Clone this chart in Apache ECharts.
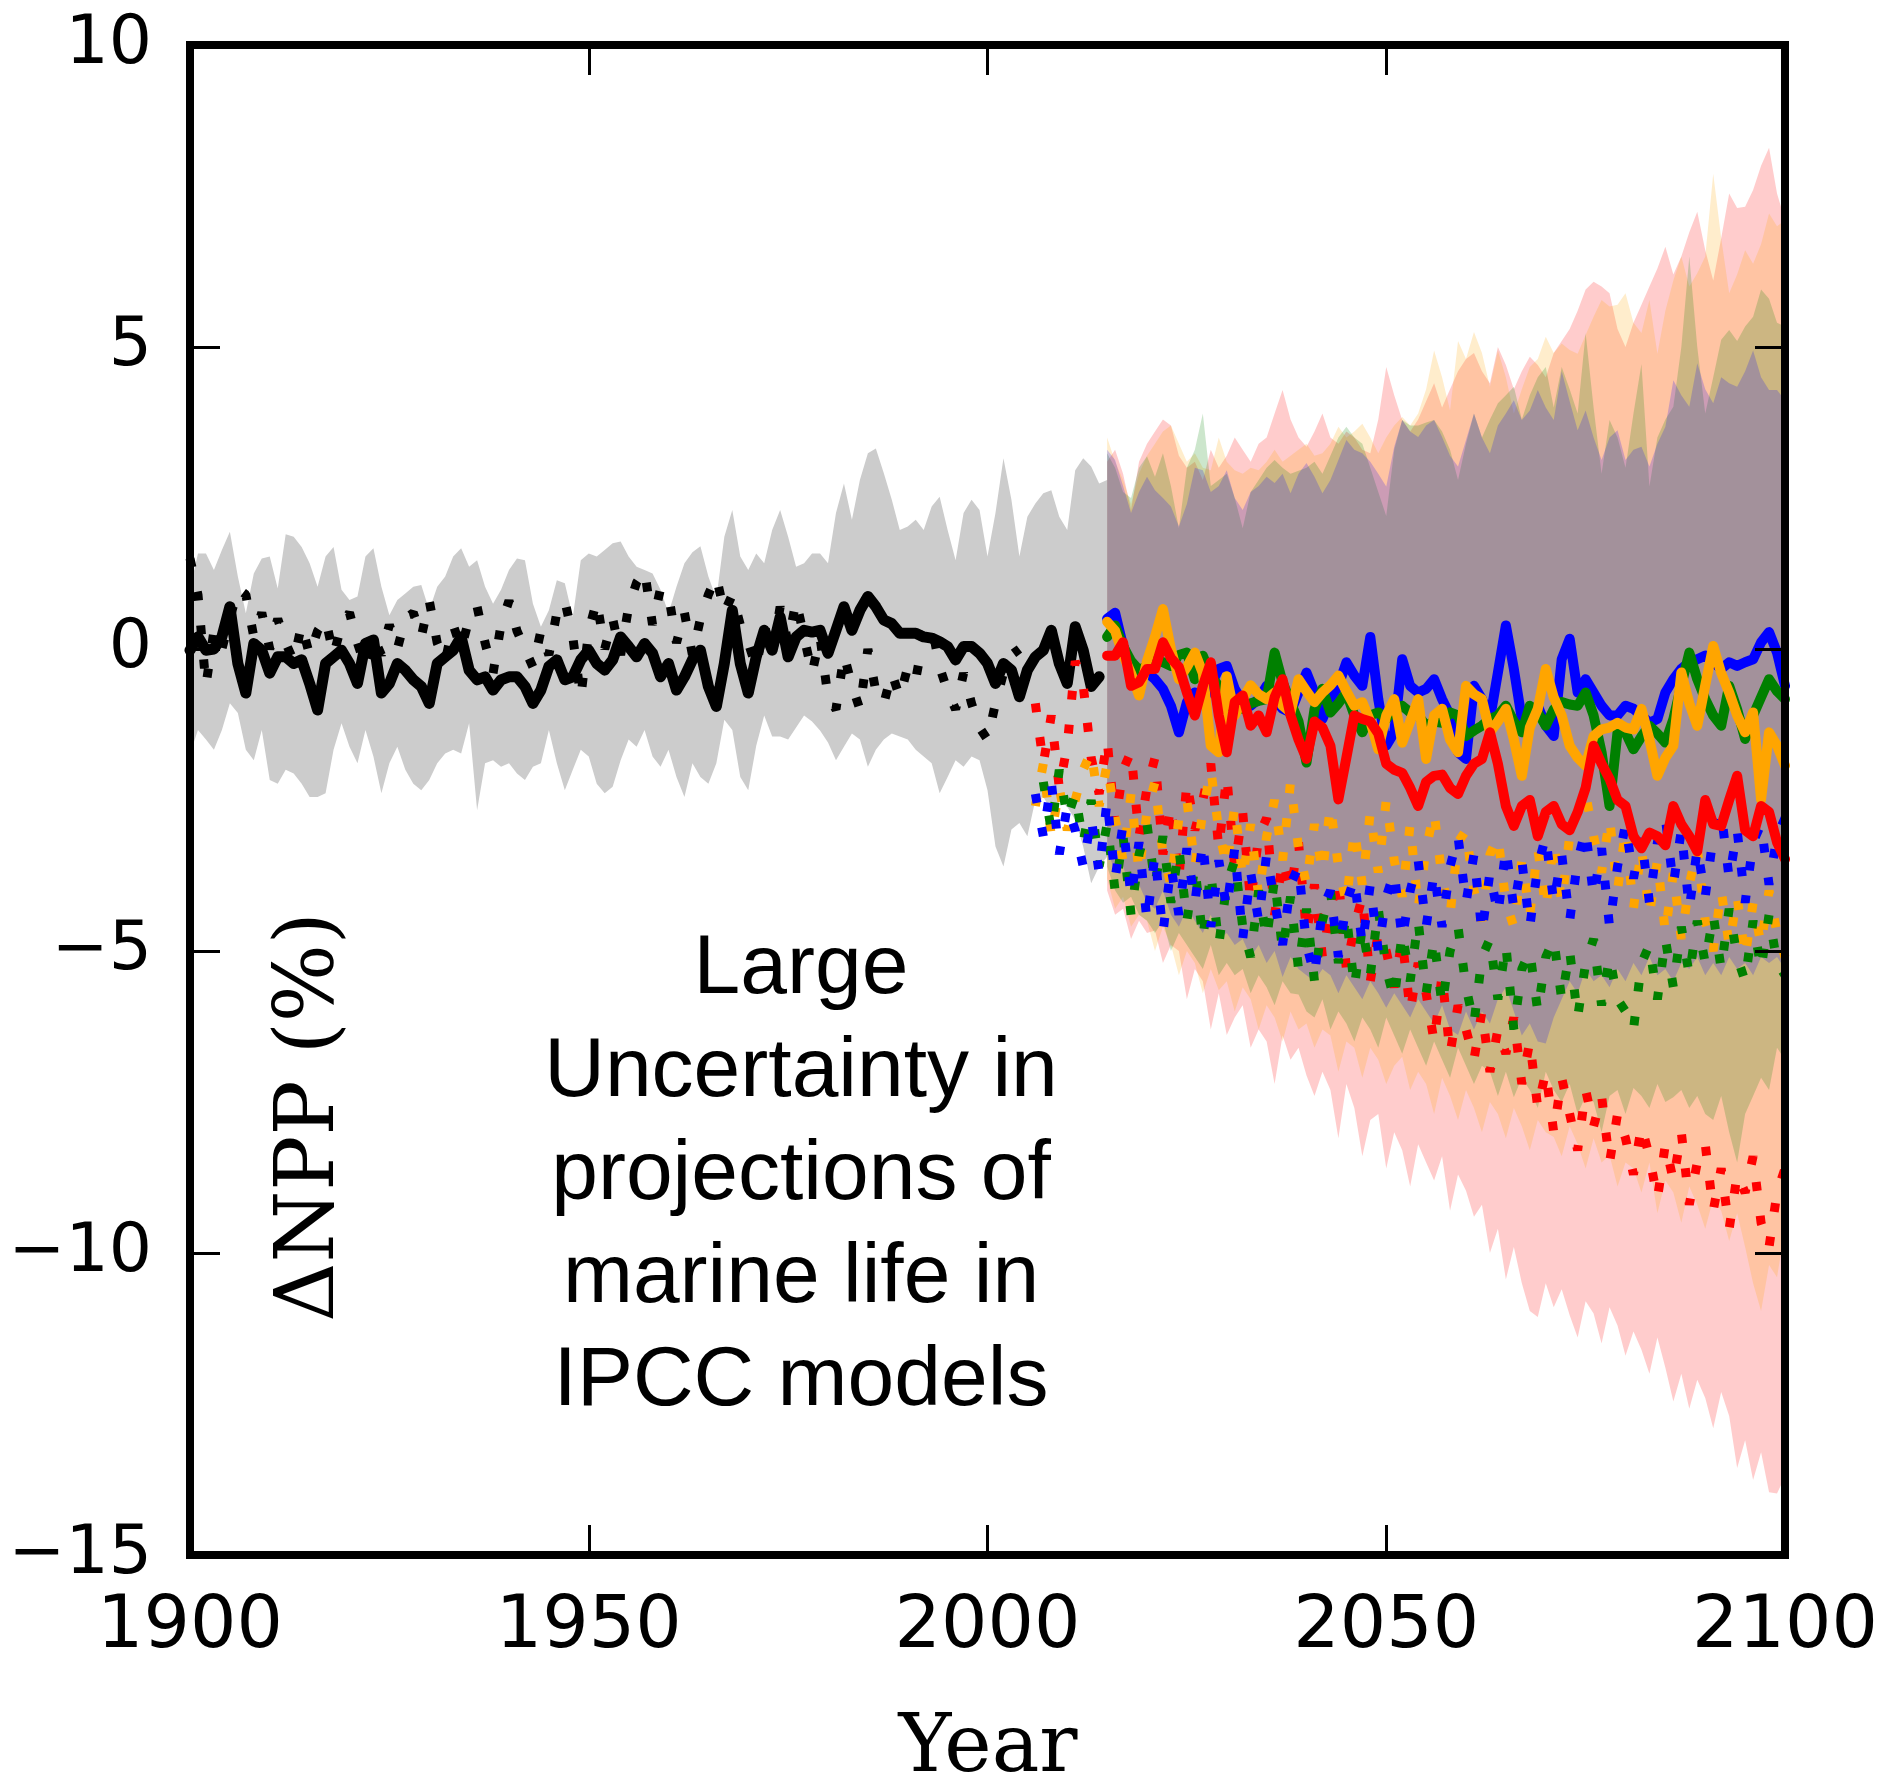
<!DOCTYPE html>
<html>
<head>
<meta charset="utf-8">
<script src="https://cdn.jsdelivr.net/npm/echarts@6.0.0/dist/echarts.min.js"></script>
<style>
  html, body { margin: 0; padding: 0; background: #ffffff; }
  #chart { width: 1894px; height: 1791px; }
</style>
</head>
<body>
<div id="chart"></div>
<script>
// ---- Historical period (1900 onward) ----
const HIST_START = 1900;
const grayUpper = [
  1.0, 1.58, 1.58, 1.31, 1.64, 1.94, 1.2, 0.59, 1.25, 1.5,
  1.53, 1.0, 1.9, 1.86, 1.69, 1.42, 1.03, 1.53, 1.69, 0.98,
  0.81, 0.87, 1.53, 1.67, 1.03, 0.56, 0.81, 0.92, 1.03, 1.06,
  0.64, 1.03, 1.2, 1.53, 1.67, 1.36, 1.47, 1.03, 0.75, 0.98,
  1.31, 1.5, 1.47, 0.75, 0.37, 0.64, 1.14, 1.09, 0.53, 1.47,
  1.58, 1.53, 1.64, 1.75, 1.78, 1.53, 1.36, 1.31, 1.25, 0.98,
  0.59, 1.03, 1.42, 1.6, 1.7, 1.2, 0.83, 1.86, 2.3, 1.53,
  1.31, 1.58, 1.42, 1.97, 2.3, 1.86, 1.36, 1.42, 1.58, 1.58,
  1.42, 2.25, 2.74, 2.14, 2.8, 3.24, 3.32, 2.91, 2.47, 1.97,
  2.03, 2.14, 1.97, 2.36, 2.52, 1.97, 1.47, 2.25, 2.47, 2.3,
  1.53, 2.25, 3.16, 2.47, 1.53, 2.19, 2.41, 2.58, 2.63, 2.19,
  1.97, 2.96, 3.16, 3.02, 2.74, 2.8
];
const grayLower = [
  -1.73, -1.34, -1.5, -1.67, -1.34, -0.9, -1.06, -1.67, -1.84, -1.34,
  -2.17, -2.23, -2.0, -2.06, -2.23, -2.45, -2.45, -2.39, -1.67, -1.23,
  -1.62, -1.89, -1.34, -1.78, -2.39, -1.89, -1.62, -2.0, -2.23, -2.34,
  -2.17, -1.89, -1.73, -1.67, -1.73, -1.23, -2.67, -1.89, -1.84, -1.95,
  -1.89, -2.06, -2.17, -1.95, -1.89, -1.34, -1.89, -2.34, -2.0, -1.67,
  -1.78, -2.23, -2.39, -2.28, -1.84, -1.5, -1.62, -1.34, -1.78, -1.95,
  -1.67, -2.12, -2.45, -1.89, -2.12, -2.23, -1.89, -1.17, -1.34, -2.12,
  -2.34, -1.6, -1.1, -1.45, -1.45, -1.5, -1.3, -1.1, -1.2, -1.35,
  -1.55, -1.84, -1.62, -1.4, -1.5, -1.95, -1.67, -1.5, -1.4, -1.45,
  -1.5, -1.67, -1.78, -1.89, -2.39, -2.12, -1.84, -1.95, -1.78, -1.84,
  -2.34, -3.27, -3.6, -2.99, -2.88, -3.1, -2.5, -2.45, -2.67, -2.5,
  -2.61, -2.83, -3.27, -3.88, -3.6, -3.44
];
const histLine = [
  -0.02, 0.2, -0.02, 0.0, 0.2, 0.7, -0.24, -0.73, 0.09, -0.02,
  -0.4, -0.13, -0.13, -0.24, -0.18, -0.57, -1.01, -0.24, -0.13, -0.02,
  -0.24, -0.57, 0.09, 0.15, -0.73, -0.57, -0.24, -0.35, -0.51, -0.62,
  -0.9, -0.24, -0.13, -0.02, 0.2, -0.35, -0.51, -0.46, -0.68, -0.51,
  -0.46, -0.46, -0.62, -0.9, -0.68, -0.29, -0.18, -0.51, -0.46, -0.18,
  -0.02, -0.24, -0.35, -0.18, 0.2, 0.04, -0.13, 0.09, -0.07, -0.46,
  -0.24, -0.68, -0.46, -0.18, -0.02, -0.62, -0.95, -0.24, 0.64, -0.24,
  -0.73, -0.13, 0.31, -0.02, 0.53, -0.13, 0.2, 0.31, 0.28, 0.31,
  -0.07, 0.31, 0.7, 0.31, 0.64, 0.87, 0.7, 0.48, 0.42, 0.26,
  0.26, 0.26, 0.2, 0.18, 0.12, 0.04, -0.18, 0.04, 0.04, -0.07,
  -0.24, -0.57, -0.24, -0.35, -0.79, -0.35, -0.13, -0.02, 0.31, -0.24,
  -0.57, 0.37, -0.02, -0.62, -0.46
];
const histDotted = [
  1.5, 0.9, -0.6, 0.3, 0.0, 0.5, 1.0, 0.9, 0.2, 0.6,
  0.0, 0.5, 0.1, -0.2, 0.4, -0.1, 0.3, 0.5, -0.1, 0.4,
  0.6, 0.1, -0.3, 0.2, -0.1, 0.4, 0.0, 0.5, 0.6, 0.2,
  0.8, 0.1, -0.2, 0.4, 0.0, 0.5, 0.7, 0.1, -0.4, 0.4,
  0.8, 0.3, 0.0, -0.3, 0.3, -0.1, 0.6, 0.8, 0.2, -0.8,
  0.3, 0.8, 0.0, 0.5, -0.1, 0.7, 1.1, 1.3, 0.4, 1.0,
  0.9, 0.1, 0.6, -0.1, 0.5, 0.9, 1.2, 0.6, 0.9, 0.4,
  0.1, -0.3, 0.4, -0.1, 0.7, 0.1, 0.8, 0.2, -0.4, 0.2,
  -0.8, -1.0, -0.1, -0.6, -1.0, 0.0, -0.7, -0.9, -0.4, -0.8,
  -0.3, -0.5, 0.2, 0.4, -0.3, -0.7, -1.0, -0.4, -0.9, -1.3,
  -1.5, -0.9, -0.4, -0.1, 0.0
];

// ---- Projection period (2015-2100) : model spread envelopes ----
const PROJ_START = 2015;
const redUpper = [
  3.1, 3.3, 2.9, 2.3, 3.1, 3.4,
  3.6, 3.8, 3.7, 3.2, 3.0, 3.1, 2.8, 3.3, 3.0, 3.2,
  3.5, 3.3, 3.1, 3.4, 3.5, 3.9, 4.29, 3.8, 3.5, 3.35,
  3.6, 3.9, 3.5, 3.4, 3.6, 3.5, 3.3, 3.24, 3.8, 4.67,
  4.2, 3.79, 3.6, 3.8, 4.1, 4.4, 4.0, 4.3, 4.6, 4.8,
  4.9, 4.6, 4.4, 5.0, 4.7, 4.3, 4.6, 4.84, 4.7, 4.5,
  4.9, 5.1, 5.3, 5.6, 5.95, 6.08, 6.0, 5.89, 5.3, 5.0,
  5.4, 5.7, 6.0, 6.3, 6.66, 6.2, 6.5, 6.9, 7.24, 6.6,
  6.1, 6.8, 7.54, 7.3, 7.32, 7.6, 8.0, 8.3, 7.54, 7.1
];
const redLower = [
  -4.0, -4.4, -4.3, -4.8, -4.5, -4.7,
  -4.66, -5.2, -4.9, -5.0, -5.8, -5.3, -5.5, -6.3, -5.7, -6.39,
  -6.1, -5.9, -6.6, -6.3, -6.5, -7.2, -6.4, -6.8, -6.6, -7.06,
  -7.4, -7.0, -7.3, -8.1, -7.2, -7.6, -8.4, -7.8, -7.7, -8.6,
  -8.0, -8.3, -8.9, -8.2, -8.5, -8.8, -8.4, -9.3, -8.7, -8.97,
  -9.4, -9.2, -10.0, -9.6, -10.44, -9.9, -10.5, -10.96, -11.06, -10.5,
  -10.9, -10.6, -11.03, -11.4, -10.8, -11.0, -11.5, -10.9, -11.2, -11.7,
  -11.3, -11.6, -12.0, -11.4, -11.9, -12.46, -12.0, -12.58, -12.1, -12.4,
  -12.9, -12.3, -12.7, -13.56, -13.1, -13.76, -13.3, -13.96, -13.98, -13.7
];
const orangeUpper = [
  3.5, 3.1, 2.8, 2.4, 2.9, 3.2,
  3.4, 3.6, 3.7, 3.4, 3.1, 3.24, 3.0, 2.96, 3.5, 3.1,
  2.96, 2.9, 3.0, 2.96, 3.1, 3.3, 3.1, 3.2, 3.3, 3.4,
  3.2, 3.24, 3.4, 3.68, 3.5, 3.6, 3.73, 3.5, 3.24, 3.5,
  3.7, 3.84, 3.7, 3.9, 4.3, 4.94, 4.5, 3.95, 5.1, 4.8,
  5.25, 4.9, 4.34, 4.94, 4.5, 3.9, 4.3, 4.67, 4.8, 5.17,
  4.9, 5.06, 4.95, 4.89, 5.2, 5.5, 5.78, 5.67, 5.7, 5.89,
  5.4, 5.23, 5.78, 4.89, 5.6, 6.1, 6.5, 6.0, 6.22, 6.5,
  7.87, 6.8, 5.89, 6.2, 6.6, 6.38, 6.7, 7.21, 7.0, 7.1
];
const orangeLower = [
  -3.8, -4.3, -4.1, -4.6, -4.4, -4.5,
  -5.0, -4.6, -4.9, -5.4, -5.0, -5.2, -5.7, -5.3, -5.65, -5.5,
  -6.0, -5.6, -5.8, -6.3, -5.9, -6.1, -6.5, -6.0, -6.3, -6.2,
  -6.6, -6.3, -6.4, -7.0, -6.5, -6.6, -7.1, -6.6, -6.8, -7.2,
  -6.9, -6.75, -7.3, -7.0, -7.2, -7.7, -7.1, -7.4, -7.8, -7.3,
  -7.6, -8.0, -7.5, -7.7, -8.1, -7.6, -7.9, -8.3, -7.8, -8.0,
  -8.08, -8.4, -7.9, -8.2, -8.6, -8.1, -8.5, -8.38, -8.9, -8.5,
  -8.6, -9.0, -8.5, -9.34, -8.8, -9.0, -9.5, -8.9, -9.2, -9.6,
  -9.1, -9.3, -9.8, -9.34, -9.9, -10.5, -10.96, -10.2, -10.4, -9.6
];
const greenUpper = [
  3.24, 3.0, 2.6, 2.5, 3.0, 3.19,
  2.85, 3.24, 2.7, 2.0, 3.0, 3.3, 3.9, 2.7, 2.8, 2.9,
  2.5, 2.0, 2.6, 2.8, 3.0, 3.13, 3.0, 2.9, 2.95, 3.0,
  3.1, 2.9, 3.2, 3.5, 3.68, 3.5, 3.4, 3.0, 2.6, 2.2,
  3.3, 3.79, 3.7, 3.7, 3.75, 3.79, 3.6, 3.3, 2.8, 3.4,
  3.9, 3.5, 3.8, 4.07, 4.2, 4.34, 3.8, 4.2, 4.5, 4.67,
  4.0, 4.67, 4.3, 3.9, 5.23, 4.0, 2.9, 3.79, 3.5, 3.0,
  3.9, 4.72, 2.69, 3.5, 3.8, 4.01, 5.0, 6.5, 5.0, 3.9,
  4.5, 5.12, 5.28, 5.1, 5.34, 5.5, 5.95, 5.8, 5.4, 5.34
];
const greenLower = [
  -3.6, -4.0, -4.2, -4.1, -4.4, -4.5,
  -4.7, -4.5, -5.0, -4.7, -4.9, -5.1, -5.3, -4.9, -5.4, -5.2,
  -5.4, -5.3, -5.7, -5.4, -5.6, -5.9, -5.5, -5.7, -5.72, -6.0,
  -6.1, -5.8, -6.3, -6.0, -6.2, -6.5, -6.1, -6.3, -6.6, -6.1,
  -6.4, -6.7, -6.3, -6.6, -6.9, -6.5, -6.8, -7.1, -6.6, -6.9,
  -7.2, -6.9, -7.0, -7.4, -7.0, -7.42, -7.1, -7.3, -7.6, -7.0,
  -7.3, -7.5, -7.2, -7.7, -7.4, -7.5, -8.0, -7.4, -7.3, -7.7,
  -7.27, -7.4, -7.6, -7.2, -7.5, -7.42, -7.3, -7.6, -7.4, -7.7,
  -7.8, -7.4, -8.0, -8.5, -7.7, -7.4, -7.1, -7.3, -6.6, -6.8
];
const blueUpper = [
  3.3, 3.13, 2.7, 2.25, 2.6, 2.85,
  2.63, 2.5, 2.36, 2.03, 2.4, 3.0, 2.96, 2.6, 2.7, 2.96,
  2.5, 2.3, 2.6, 2.7, 2.85, 2.75, 2.9, 2.58, 2.9, 3.08,
  2.85, 2.58, 2.8, 3.13, 3.46, 3.3, 3.24, 3.1, 2.9, 2.69,
  3.35, 3.79, 3.6, 3.51, 3.7, 3.79, 3.51, 3.2, 3.02, 3.46,
  3.9, 3.5, 3.24, 3.7, 3.9, 4.12, 3.79, 3.95, 4.29, 4.0,
  3.79, 4.6, 4.1, 3.62, 3.95, 3.5, 3.13, 3.5, 3.62, 3.13,
  3.3, 3.35, 3.02, 3.4, 3.68, 4.45, 4.2, 4.01, 4.73, 4.3,
  4.07, 4.5, 4.4, 4.34, 4.6, 4.94, 4.5, 4.29, 4.29, 4.12
];
const blueLower = [
  -3.3, -3.7, -3.6, -4.0, -3.9, -4.2,
  -4.3, -4.0, -4.4, -4.6, -4.3, -4.5, -4.7, -4.4, -4.8, -4.7,
  -4.9, -4.8, -5.1, -4.9, -5.2, -5.0, -5.43, -5.1, -5.3, -5.4,
  -5.5, -5.3, -5.4, -5.7, -5.4, -5.6, -5.8, -5.5, -5.7, -5.94,
  -5.7, -5.9, -6.1, -5.8, -6.0, -6.2, -5.9, -6.3, -6.39, -6.0,
  -6.3, -6.0, -6.2, -5.8, -5.6, -6.0, -6.4, -6.2, -6.5, -6.53,
  -6.1, -5.8, -5.5, -5.7, -5.3, -5.5, -5.4, -5.6, -5.3, -5.5,
  -5.2, -5.4, -5.1, -5.4, -5.3, -5.5, -5.2, -5.3, -5.1, -5.4,
  -5.2, -5.4, -5.1, -5.3, -5.2, -5.4, -5.1, -5.2, -5.1, -5.3
];

// ---- Projection period : model means ----
const blueMean = [
  0.5, 0.6, 0.05, -0.28, -0.44, -0.39,
  -0.5, -0.66, -0.94, -1.38, -0.88, -0.72, -0.88, -0.61, -0.33, -0.28,
  -0.66, -0.88, -0.94, -0.83, -0.61, -0.83, -0.99, -1.05, -0.72, -0.39,
  -0.72, -1.16, -0.83, -0.61, -0.22, -0.44, -0.61, 0.2, -0.83, -1.6,
  -1.38, -0.17, -0.61, -0.72, -0.66, -0.5, -0.83, -1.1, -1.71, -1.82,
  -0.61, -0.83, -1.16, -0.39, 0.39, -0.33, -1.16, -1.1, -0.94, -1.27,
  -1.44, -0.17, 0.17, -0.72, -0.5, -0.72, -0.94, -1.1, -1.1, -0.94,
  -0.99, -1.1, -1.22, -1.16, -0.72, -0.5, -0.33, -0.22, -0.17, -0.11,
  -0.22, -0.33, -0.22, -0.28, -0.22, -0.17, 0.11, 0.28, -0.06, -0.61
];
const greenMean = [
  0.2, 0.39, 0.05, -0.2, -0.35, -0.28,
  -0.17, -0.22, -0.28, -0.1, -0.06, -0.5, -0.11, -0.45, -0.61, -0.94,
  -0.95, -0.99, -0.9, -0.86, -0.83, -0.06, -0.55, -0.88, -1.2, -1.88,
  -1.0, -0.66, -1.05, -0.9, -0.72, -1.1, -1.38, -1.1, -1.05, -1.16,
  -1.0, -0.94, -1.05, -1.1, -1.27, -1.2, -1.22, -1.05, -1.1, -1.44,
  -1.35, -1.27, -1.16, -1.1, -0.94, -1.2, -1.38, -0.94, -1.05, -1.27,
  -1.0, -0.88, -0.92, -0.94, -0.72, -1.1, -1.71, -2.6, -1.38, -1.38,
  -1.66, -1.45, -1.27, -1.4, -1.55, -1.16, -0.6, -0.06, -0.5, -0.83,
  -1.1, -1.27, -0.61, -1.0, -1.49, -1.1, -0.8, -0.5, -0.7, -0.83
];
const orangeMean = [
  0.45, 0.3, -0.1, -0.4, -0.77, -0.2,
  0.2, 0.66, 0.0, -0.5, -0.3, -0.06, -0.4, -1.6, -1.71, -0.45,
  -1.1, -0.83, -0.6, -0.75, -0.83, -0.72, -0.94, -1.05, -0.5, -0.7,
  -0.88, -0.72, -0.6, -0.44, -0.7, -0.94, -0.88, -1.2, -1.66, -1.1,
  -0.83, -1.55, -1.2, -0.83, -1.82, -1.1, -0.99, -1.5, -1.71, -0.61,
  -0.75, -0.83, -1.38, -1.2, -0.99, -1.5, -2.1, -1.3, -0.99, -0.33,
  -0.8, -1.1, -1.6, -1.8, -1.93, -1.44, -1.33, -1.3, -1.22, -1.3,
  -1.33, -0.99, -1.5, -2.1, -1.8, -1.6, -0.39, -0.9, -1.27, -0.6,
  0.05, -0.4, -0.72, -1.1, -1.38, -1.05, -2.49, -1.38, -1.6, -1.93
];
const redMean = [
  -0.11, -0.11, 0.11, -0.61, -0.55, -0.33,
  -0.33, 0.11, -0.15, -0.3, -0.72, -1.1, -0.61, -0.22, -1.1, -1.71,
  -0.88, -0.77, -1.27, -1.1, -1.38, -0.8, -0.5, -1.1, -1.5, -1.82,
  -1.2, -1.3, -1.6, -2.49, -1.8, -1.1, -1.16, -1.2, -1.4, -1.9,
  -2.0, -2.05, -2.3, -2.6, -2.2, -2.1, -2.08, -2.3, -2.4, -2.1,
  -1.9, -1.82, -1.38, -1.9, -2.6, -2.93, -2.6, -2.5, -3.1, -2.7,
  -2.6, -2.9, -3.0, -2.7, -2.3, -1.6, -1.9, -2.15, -2.5, -2.6,
  -3.1, -3.3, -3.04, -3.1, -3.25, -2.6, -2.9, -3.1, -3.35, -2.5,
  -2.9, -2.93, -2.5, -2.1, -3.0, -3.1, -2.6, -2.7, -3.2, -3.48
];

// ---- Second projection set (dotted) ----
const redDotStart = 2006;
const redDotted = [
  -0.9, -1.9, -1.1, -2.3, -1.6,
  -0.2, -0.6, -1.8, -2.4, -1.5, -2.9, -2.0, -1.7, -3.1, -2.3,
  -1.8, -3.4, -2.6, -3.8, -2.2, -3.0, -2.5, -1.9, -3.3, -2.1,
  -3.6, -2.7, -4.2, -3.1, -2.8, -4.4, -3.5, -4.0, -3.2, -4.7,
  -3.9, -5.1, -4.3, -3.8, -5.3, -4.6, -4.1, -5.5, -4.7, -5.0,
  -5.6, -4.8, -6.0, -5.2, -5.7, -6.5, -5.4, -6.7, -5.9, -6.3,
  -6.8, -6.0, -7.0, -6.3, -6.7, -6.1, -7.2, -6.5, -7.6, -7.0,
  -8.0, -7.1, -7.7, -8.3, -7.3, -7.9, -7.4, -8.5, -7.7, -8.1,
  -8.7, -7.9, -8.4, -9.1, -8.2, -8.8, -8.0, -9.2, -8.5, -8.2,
  -9.3, -8.6, -9.6, -8.7, -9.0, -8.4, -9.5, -9.9, -9.0, -8.6
];
const orangeDotStart = 2006;
const orangeDotted = [
  -2.6, -1.9, -3.1, -2.3, -3.0,
  -2.5, -2.0, -1.7, -2.6, -1.9, -2.8, -3.5, -2.4, -3.7, -2.7,
  -2.2, -3.4, -3.9, -2.8, -2.5, -3.6, -2.7, -2.0, -3.0, -3.6,
  -2.6, -3.8, -2.9, -4.1, -3.1, -2.5, -3.5, -2.2, -3.3, -3.9,
  -2.9, -3.7, -2.6, -3.6, -4.2, -3.0, -3.9, -2.7, -3.7, -2.5,
  -3.5, -4.1, -2.9, -4.3, -3.3, -2.7, -3.8, -4.4, -3.2, -3.0,
  -4.0, -4.5, -3.4, -3.1, -4.2, -4.6, -3.5, -4.4, -3.3, -4.3,
  -3.2, -4.2, -3.1, -2.7, -2.4, -3.1, -3.7, -2.8, -4.0, -3.0,
  -4.3, -3.3, -4.4, -3.5, -4.7, -3.7, -4.8, -3.9, -3.3, -4.5,
  -5.0, -4.0, -4.9, -4.1, -5.1, -4.2, -4.9, -4.0, -4.7, -5.1
];
const greenDotStart = 2007;
const greenDotted = [
  -2.2, -3.0, -2.0, -2.8,
  -2.4, -3.2, -2.5, -3.6, -2.9, -4.0, -3.1, -4.4, -3.4, -2.9,
  -3.9, -3.1, -4.2, -3.3, -4.5, -3.6, -4.8, -3.7, -4.9, -3.9,
  -3.5, -4.6, -5.1, -4.0, -4.8, -3.8, -5.0, -4.1, -5.3, -4.3,
  -5.5, -4.5, -4.0, -5.2, -4.4, -5.6, -4.6, -5.4, -4.3, -5.3,
  -5.8, -4.7, -5.5, -4.5, -5.7, -4.8, -5.9, -5.0, -4.6, -5.6,
  -6.2, -5.1, -4.8, -5.8, -4.9, -6.3, -5.3, -5.0, -6.0, -5.1,
  -4.8, -5.8, -5.0, -6.1, -5.2, -4.8, -5.9, -5.1, -5.8, -6.0,
  -6.3, -5.2, -4.9, -5.8, -4.8, -5.6, -4.6, -5.4, -4.5, -5.2,
  -4.4, -5.3, -4.3, -5.1, -5.5, -4.5, -5.3, -4.4, -5.2, -5.4
];
const blueDotStart = 2006;
const blueDotted = [
  -2.4, -3.1, -2.2, -3.4, -2.6,
  -3.0, -3.6, -2.8, -3.7, -2.5, -3.8, -2.9, -4.1, -3.2, -4.5,
  -3.4, -4.7, -3.6, -4.4, -3.3, -4.2, -3.2, -4.6, -3.5, -4.3,
  -3.3, -4.8, -3.7, -4.5, -3.4, -4.2, -4.9, -3.9, -3.6, -4.9,
  -5.4, -4.3, -4.0, -5.1, -4.2, -3.8, -4.9, -3.9, -5.0, -4.1,
  -3.7, -4.8, -4.0, -3.5, -4.6, -3.7, -4.6, -3.6, -3.1, -4.2,
  -3.4, -4.7, -3.7, -4.4, -3.3, -4.3, -3.5, -4.6, -3.6, -3.1,
  -4.2, -3.4, -4.5, -3.5, -3.0, -4.1, -3.3, -4.6, -3.6, -2.9,
  -3.8, -3.1, -4.2, -3.2, -2.8, -3.9, -3.0, -4.3, -3.3, -4.1,
  -3.1, -2.7, -3.8, -3.0, -4.2, -3.2, -2.9, -3.9, -3.1, -2.8
];

// Axis ticks
const xTicks = [1900, 1950, 2000, 2050, 2100];
const yTicks = [10, 5, 0, -5, -10, -15];

// Annotation
const noteLines = ['Large', 'Uncertainty in', 'projections of', 'marine life in', 'IPCC models'];

// ---------------------------------------------------------------
function toPairs(start, vals) {
  return vals.map(function (v, i) { return [start + i, v]; });
}

function bandSeries(name, start, upper, lower, fill) {
  return {
    type: 'custom',
    name: name,
    coordinateSystem: 'cartesian2d',
    silent: true,
    clip: true,
    data: [[start, upper[0]]],
    renderItem: function (params, api) {
      const pts = [];
      for (let i = 0; i < upper.length; i++) pts.push(api.coord([start + i, upper[i]]));
      for (let i = lower.length - 1; i >= 0; i--) pts.push(api.coord([start + i, lower[i]]));
      return { type: 'polygon', shape: { points: pts }, style: { fill: fill, stroke: null } };
    }
  };
}

function solidLine(name, start, vals, color, width) {
  return {
    type: 'line', name: name, data: toPairs(start, vals),
    showSymbol: false, symbol: 'none', silent: true, clip: true,
    lineStyle: { color: color, width: width, join: 'round', cap: 'round' }
  };
}

function dottedLine(name, start, vals, color) {
  return {
    type: 'line', name: name, data: toPairs(start, vals),
    showSymbol: false, symbol: 'none', silent: true, clip: true,
    lineStyle: { color: color, width: 9, type: [9, 25], cap: 'butt', join: 'bevel' }
  };
}

const yLabel = function (v) { return v < 0 ? '\u2212' + Math.abs(v) : String(v); };
const xLabel = function (v) { return String(v); };

const tickLine = { show: true, inside: true, length: 30, lineStyle: { color: '#000', width: 3 } };
const noLine = { show: false, onZero: false };

const option = {
  animation: false,
  backgroundColor: '#ffffff',
  grid: {
    left: 190, right: 109, top: 45, bottom: 236,
    show: true, borderColor: '#000', borderWidth: 8, backgroundColor: 'transparent', z: 10
  },
  xAxis: [
    {
      type: 'value', min: xTicks[0], max: xTicks[xTicks.length - 1], interval: 50, position: 'bottom', z: 10,
      axisLine: noLine, axisTick: tickLine, splitLine: { show: false },
      axisLabel: { color: '#000', fontFamily: 'DejaVu Sans', fontSize: 73, margin: 37, formatter: xLabel }
    },
    {
      type: 'value', min: xTicks[0], max: xTicks[xTicks.length - 1], interval: 50, position: 'top', z: 10,
      axisLine: noLine, axisTick: tickLine, splitLine: { show: false }, axisLabel: { show: false }
    }
  ],
  yAxis: [
    {
      type: 'value', min: yTicks[yTicks.length - 1], max: yTicks[0], interval: 5, position: 'left', z: 10,
      axisLine: noLine, axisTick: tickLine, splitLine: { show: false },
      axisLabel: { color: '#000', fontFamily: 'DejaVu Sans', fontSize: 68, margin: 38, formatter: yLabel }
    },
    {
      type: 'value', min: yTicks[yTicks.length - 1], max: yTicks[0], interval: 5, position: 'right', z: 10,
      axisLine: noLine, axisTick: tickLine, splitLine: { show: false }, axisLabel: { show: false }
    }
  ],
  graphic: [
    {
      type: 'text', x: 988, y: 1750, z: 20,
      style: {
        text: 'Year', fill: '#000', font: '80px "DejaVu Serif"',
        align: 'center', verticalAlign: 'middle', textAlign: 'center', textVerticalAlign: 'middle'
      }
    },
    {
      type: 'text', x: 312, y: 1117, rotation: Math.PI / 2, z: 20,
      style: {
        text: '\u0394NPP (%)', fill: '#000', font: '82px "DejaVu Serif"',
        align: 'center', verticalAlign: 'middle', textAlign: 'center', textVerticalAlign: 'middle'
      }
    },
    {
      type: 'text', x: 801, y: 1176, z: 20,
      style: {
        text: noteLines.join('\n'), fill: '#000', font: '84px "Liberation Sans"', lineHeight: 103,
        align: 'center', verticalAlign: 'middle', textAlign: 'center', textVerticalAlign: 'middle'
      }
    }
  ],
  series: [
    bandSeries('historical spread', HIST_START, grayUpper, grayLower, '#cccccc'),
    bandSeries('red spread', PROJ_START, redUpper, redLower, 'rgba(255,0,0,0.2)'),
    bandSeries('orange spread', PROJ_START, orangeUpper, orangeLower, 'rgba(255,165,0,0.2)'),
    bandSeries('green spread', PROJ_START, greenUpper, greenLower, 'rgba(0,128,0,0.2)'),
    bandSeries('blue spread', PROJ_START, blueUpper, blueLower, 'rgba(0,0,255,0.2)'),
    dottedLine('historical (dotted)', HIST_START, histDotted, '#000000'),
    solidLine('historical', HIST_START, histLine, '#000000', 11),
    dottedLine('red (dotted)', redDotStart, redDotted, '#ff0000'),
    dottedLine('orange (dotted)', orangeDotStart, orangeDotted, '#ffa500'),
    dottedLine('green (dotted)', greenDotStart, greenDotted, '#008000'),
    dottedLine('blue (dotted)', blueDotStart, blueDotted, '#0000ff'),
    solidLine('blue', PROJ_START, blueMean, '#0000ff', 10),
    solidLine('green', PROJ_START, greenMean, '#008000', 10),
    solidLine('orange', PROJ_START, orangeMean, '#ffa500', 10),
    solidLine('red', PROJ_START, redMean, '#ff0000', 10)
  ]
};

const chart = echarts.init(document.getElementById('chart'), null, { renderer: 'canvas' });
chart.setOption(option);
</script>
</body>
</html>
